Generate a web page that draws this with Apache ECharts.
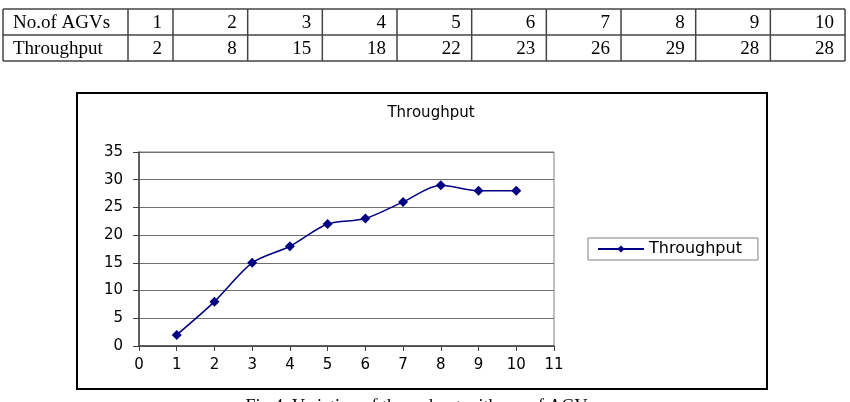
<!DOCTYPE html>
<html>
<head>
<meta charset="utf-8">
<script src="https://cdn.jsdelivr.net/npm/echarts@6/dist/echarts.min.js"></script>
<style>
  html, body { margin: 0; padding: 0; background: #fff; }
  #main { width: 850px; height: 402px; }
</style>
</head>
<body>
<div id="main"></div>
<script>
const agvs = [1, 2, 3, 4, 5, 6, 7, 8, 9, 10]
const throughput = [2, 8, 15, 18, 22, 23, 26, 29, 28, 28]
const rowLabels = ['No.of AGVs', 'Throughput']
const xTicks = [0, 11]   // x axis range
const yTicks = [0, 35]   // y axis range
const caption = 'Fig.4. Variation of throughput with no. of AGVs'

// table layout
const tblTop = 9, rowH = 26
const colX = [3, 128]
for (let i = 0; i < agvs.length; i++) colX.push(173 + i * 74.67)
const tblRight = colX[colX.length - 1]
const lineCol = '#444'
const serif = 'Liberation Serif'
const sans = 'DejaVu Sans'

const graphics = []
// horizontal table lines
for (let r = 0; r <= 2; r++) {
  graphics.push({
    type: 'line', silent: true,
    shape: { x1: colX[0], y1: tblTop + r * rowH, x2: tblRight, y2: tblTop + r * rowH },
    style: { stroke: lineCol, lineWidth: 1.5 }
  })
}
// vertical table lines
colX.forEach((x) => {
  graphics.push({
    type: 'line', silent: true,
    shape: { x1: x, y1: tblTop, x2: x, y2: tblTop + 2 * rowH },
    style: { stroke: lineCol, lineWidth: 1.5 }
  })
})
// table texts
const rows = [agvs, throughput]
rows.forEach((vals, r) => {
  const cy = tblTop + r * rowH + rowH / 2 + 1
  graphics.push({
    type: 'text', silent: true, x: colX[0] + 10, y: cy,
    style: { text: rowLabels[r], fontFamily: serif, fontSize: 19, fill: '#000', align: 'left', verticalAlign: 'middle' }
  })
  vals.forEach((v, i) => {
    graphics.push({
      type: 'text', silent: true, x: colX[i + 2] - 11, y: cy,
      style: { text: String(v), fontFamily: serif, fontSize: 19, fill: '#000', align: 'right', verticalAlign: 'middle' }
    })
  })
})
// chart frame
graphics.push({
  type: 'rect', silent: true, z: -1,
  shape: { x: 77, y: 93, width: 690, height: 296 },
  style: { fill: 'none', stroke: '#000', lineWidth: 2 }
})
// caption (cut off by the bottom edge, as in the source)
graphics.push({
  type: 'text', silent: true, x: 420, y: 398,
  style: { text: caption, fontFamily: serif, fontSize: 18, fill: '#000', align: 'center', verticalAlign: 'top' }
})

const option = {
  animation: false,
  title: {
    text: 'Throughput',
    left: 426,
    top: 101,
    textAlign: 'center',
    textStyle: { fontFamily: sans, fontSize: 15, fontWeight: 'normal', color: '#000' }
  },
  legend: {
    left: 588,
    top: 238,
    orient: 'vertical',
    borderColor: '#808080',
    borderWidth: 1,
    borderRadius: 0,
    padding: [3, 16, 3, 9],
    itemWidth: 46,
    itemHeight: 9,
    itemGap: 4,
    textStyle: { fontFamily: sans, fontSize: 16, color: '#000' },
    data: ['Throughput']
  },
  grid: {
    left: 139,
    top: 152,
    width: 415,
    height: 194,
    show: true,
    borderColor: '#808080',
    borderWidth: 1
  },
  xAxis: {
    type: 'value',
    min: xTicks[0],
    max: xTicks[1],
    interval: 1,
    axisLine: { lineStyle: { color: '#404040', width: 1.5 } },
    axisTick: { show: true, length: 5, lineStyle: { color: '#404040' } },
    axisLabel: { margin: 12, fontFamily: sans, fontSize: 15, color: '#000' },
    splitLine: { show: false }
  },
  yAxis: {
    type: 'value',
    min: yTicks[0],
    max: yTicks[1],
    interval: 5,
    axisLine: { show: true, lineStyle: { color: '#404040', width: 1.5 } },
    axisTick: { show: true, length: 6, lineStyle: { color: '#404040' } },
    axisLabel: { margin: 16, fontFamily: sans, fontSize: 15, color: '#000' },
    splitLine: { show: true, lineStyle: { color: '#6e6e6e', width: 1 } }
  },
  series: [
    {
      name: 'Throughput',
      type: 'line',
      smooth: 0.3,
      symbol: 'diamond',
      symbolSize: 10,
      itemStyle: { color: '#000080' },
      lineStyle: { color: '#000080', width: 1.5 },
      data: agvs.map((a, i) => [a, throughput[i]])
    }
  ],
  graphic: graphics
}

const chart = echarts.init(document.getElementById('main'))
chart.setOption(option)
</script>
</body>
</html>
